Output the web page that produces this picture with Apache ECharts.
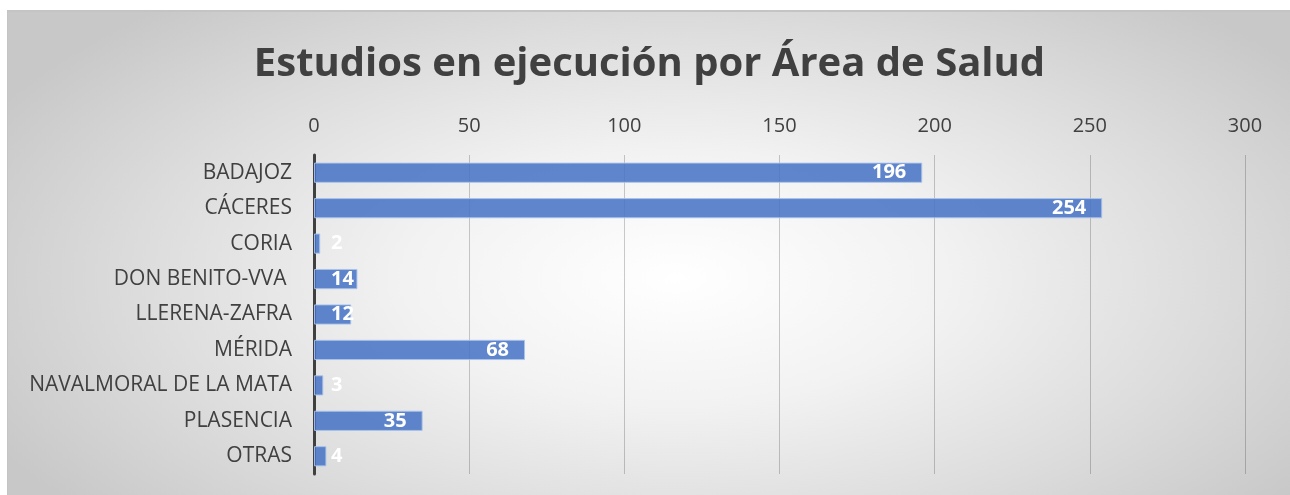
<!DOCTYPE html>
<html>
<head>
<meta charset="utf-8">
<script src="https://cdn.jsdelivr.net/npm/echarts@6/dist/echarts.min.js"></script>
<style>
  html, body { margin: 0; padding: 0; background: #fff; }
  .box {
    position: absolute;
    left: 7px;
    top: 10px;
    width: 1283px;
    height: 484px;
    border-top: 2px solid #c4c4c4;
    border-left: 1px solid #c4c4c4;
    background: radial-gradient(ellipse 60% 75% at 52% 55%, #ffffff 0%, #f2f2f2 35%, #dcdcdc 70%, #c8c8c8 100%);
  }
  #chart { width: 1283px; height: 484px; }
</style>
</head>
<body>
<div class="box"><div id="chart"></div></div>
<script>
const titleText = 'Estudios en ejecución por Área de Salud'
const categories = ['BADAJOZ', 'CÁCERES', 'CORIA', 'DON BENITO-VVA ', 'LLERENA-ZAFRA', 'MÉRIDA', 'NAVALMORAL DE LA MATA', 'PLASENCIA', 'OTRAS']
const values = [196, 254, 2, 14, 12, 68, 3, 35, 4]
const xTicks = [0, 50, 100, 150, 200, 250, 300]

const font = '"Open Sans", sans-serif'
const textColor = '#404040'

let chart = echarts.init(document.getElementById('chart'))

// small bars: Excel puts the label just past the start, not at the bar end
let barData = values.map(v => {
  let item = { value: v }
  if (v < 20) {
    item.label = { position: [17, '50%'], verticalAlign: 'middle', align: 'left' }
  }
  return item
})

let option = {
  animation: false,
  title: {
    text: titleText,
    left: 'center',
    top: 28,
    textStyle: {
      fontFamily: font,
      fontSize: 40,
      fontWeight: 'bold',
      color: textColor
    }
  },
  grid: {
    left: 306,
    right: 46,
    top: 143,
    bottom: 22,
    containLabel: false
  },
  xAxis: {
    type: 'value',
    position: 'top',
    min: xTicks[0],
    max: xTicks[xTicks.length - 1],
    interval: 50,
    axisLine: { show: false },
    axisTick: { show: false },
    axisLabel: {
      margin: 19,
      fontFamily: font,
      fontSize: 20,
      color: textColor
    },
    splitLine: {
      show: true,
      lineStyle: { color: 'rgba(0,0,0,0.2)', width: 1 }
    }
  },
  yAxis: {
    type: 'category',
    data: categories,
    inverse: true,
    axisLine: { show: true, lineStyle: { color: '#404040', width: 3 } },
    axisTick: { show: false },
    axisLabel: {
      margin: 22,
      fontFamily: font,
      fontSize: 21,
      color: textColor
    }
  },
  series: [
    {
      type: 'bar',
      data: barData,
      barCategoryGap: '43%',
      itemStyle: {
        color: 'rgba(68,114,196,0.85)',
        borderColor: 'rgba(170,195,235,0.9)',
        borderWidth: 1
      },
      label: {
        show: true,
        position: 'insideRight',
        distance: 16,
        fontFamily: font,
        fontSize: 20,
        fontWeight: 'bold',
        color: '#ffffff'
      }
    }
  ]
}

chart.setOption(option)
</script>
</body>
</html>
